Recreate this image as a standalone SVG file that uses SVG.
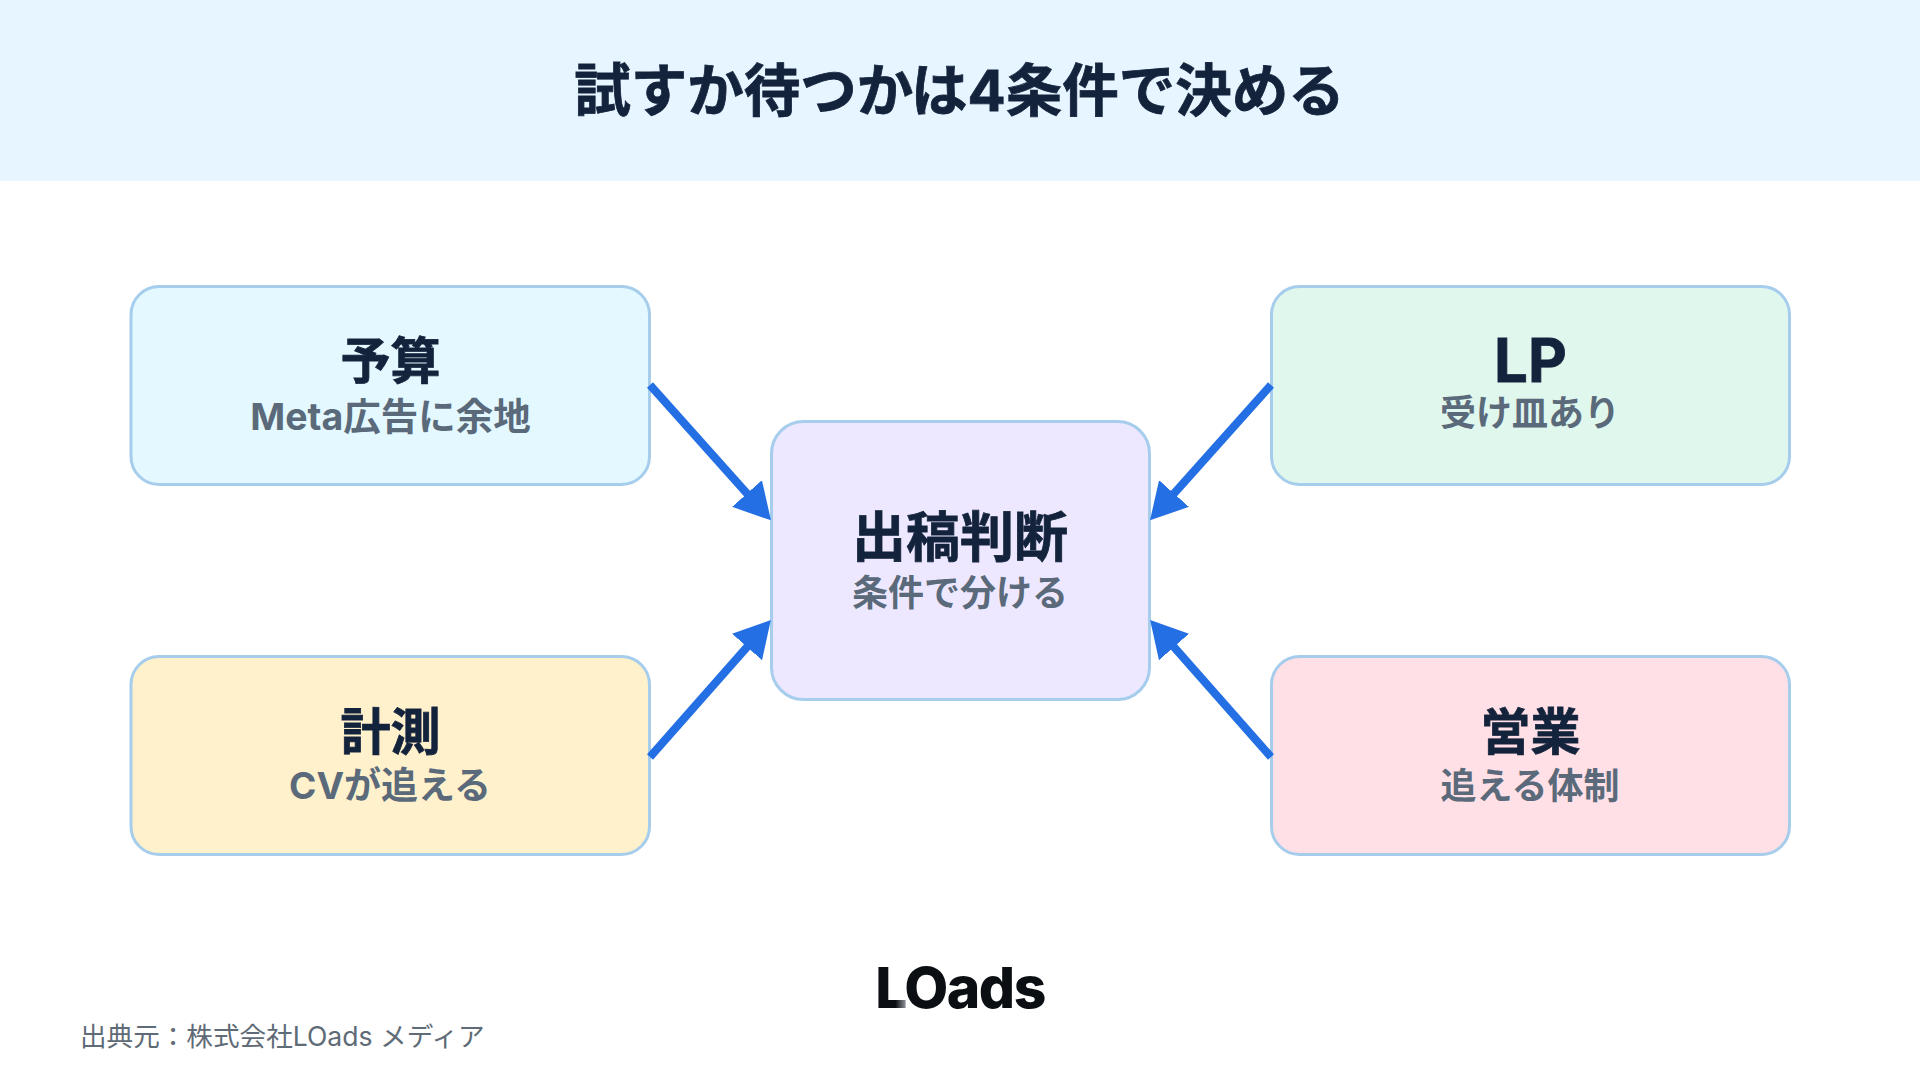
<svg xmlns="http://www.w3.org/2000/svg" width="1920" height="1080" viewBox="0 0 1920 1080">
<style>
text{font-family:Inter,"Noto Sans CJK JP",sans-serif;text-anchor:middle}
.box{stroke:#A6CDEC;stroke-width:3}
.t{font-size:50px;font-weight:700;fill:#14233C;stroke:#14233C;stroke-width:.8px}
.s{font-size:36px;font-weight:700;fill:#5A6A7A}
.c{stroke:#236FE3;stroke-width:8;fill:none;marker-end:url(#ah)}
</style>
<defs>
<marker id="ah" markerUnits="userSpaceOnUse" markerWidth="38" markerHeight="40" refX="6" refY="20" orient="auto"><path d="M0,0L36,20L0,40Z" fill="#236FE3"/></marker>
<linearGradient id="lg" x1="0" x2="1" y1="0" y2="0"><stop offset="0.12" stop-color="#0B0F14"/><stop offset="0.205" stop-color="#C8CCD0"/></linearGradient>
</defs>
<rect id="header" x="0" y="0" width="1920" height="181" fill="#E6F5FF"/>
<text id="title" class="t" x="959.500" y="111" style="font-size:56.500px">試すか待つかは4条件で決める</text>
<g id="n-budget"><rect class="box" x="131" y="286.500" width="518.500" height="198" rx="28" fill="#E3F8FF"/><text class="t" x="390.500" y="379">予算</text><text class="s" x="390.500" y="430" style="font-size:37.500px">Meta広告に余地</text></g>
<g id="n-lp"><rect class="box" x="1271.500" y="286.500" width="518" height="198" rx="28" fill="#E0F7EE"/><text class="t" x="1530.500" y="382" style="font-size:60px">LP</text><text class="s" x="1530" y="426">受け皿あり</text></g>
<g id="n-center"><rect class="box" x="771.500" y="421.500" width="378" height="278" rx="32" fill="#EDE8FF"/><text class="t" x="960" y="557" style="font-size:54px">出稿判断</text><text class="s" x="960" y="606">条件で分ける</text></g>
<g id="n-measure"><rect class="box" x="131" y="656.500" width="518.500" height="198" rx="28" fill="#FFF1CC"/><text class="t" x="390.500" y="750">計測</text><text class="s" x="390" y="799" style="font-size:37px">CVが追える</text></g>
<g id="n-sales"><rect class="box" x="1271.500" y="656.500" width="518" height="198" rx="28" fill="#FFE0E6"/><text class="t" x="1530.500" y="750">営業</text><text class="s" x="1530" y="799">追える体制</text></g>
<g id="connectors">
<line class="c" x1="650" y1="385" x2="751" y2="498"/>
<line class="c" x1="1271" y1="385" x2="1170" y2="498"/>
<line class="c" x1="650" y1="757" x2="751" y2="642.500"/>
<line class="c" x1="1271" y1="757" x2="1170" y2="642.500"/>
</g>
<g id="logo"><text x="960" y="1008" style="font-size:57px;font-weight:800;letter-spacing:-1.500px;fill:#0B0F14"><tspan style="fill:url(#lg)">L</tspan>Oads</text></g>
<text id="source" x="80" y="1046" style="text-anchor:start;font-size:26.600px;fill:#5F6B76">出典元：株式会社LOads メディア</text>
</svg>
